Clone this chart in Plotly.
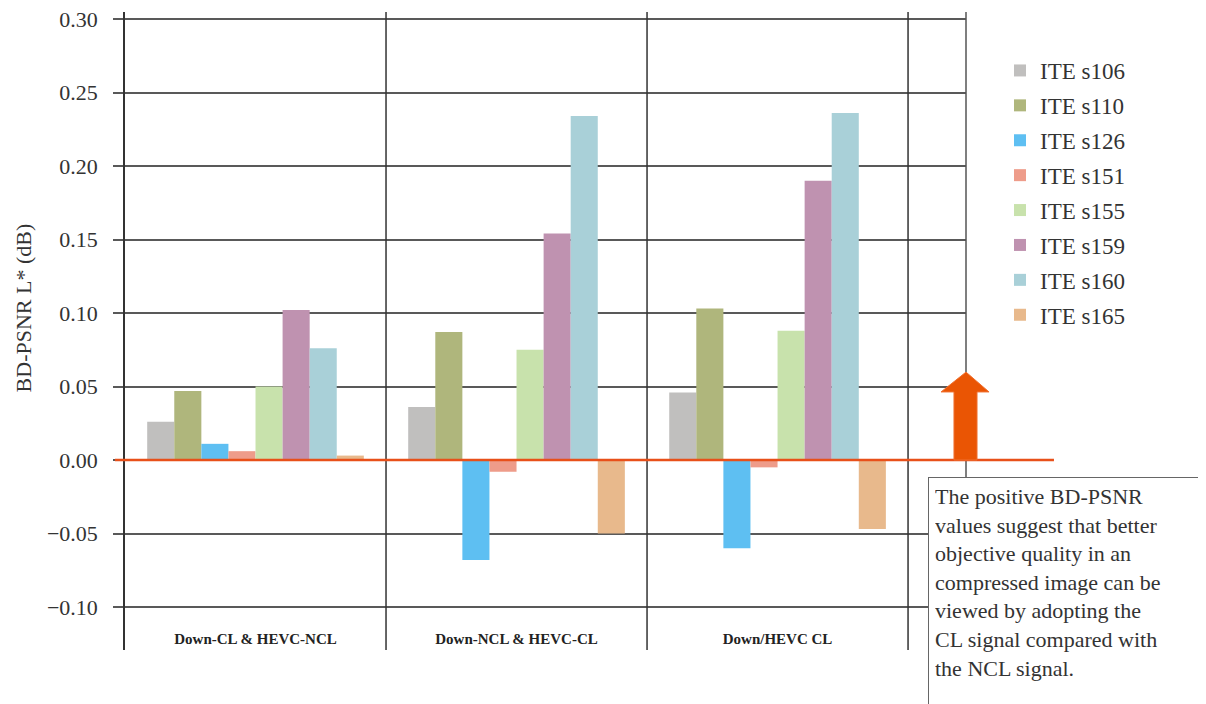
import plotly.graph_objects as go

categories = ["Down-CL & HEVC-NCL", "Down-NCL & HEVC-CL", "Down/HEVC CL"]
series_names = ["ITE s106", "ITE s110", "ITE s126", "ITE s151",
                "ITE s155", "ITE s159", "ITE s160", "ITE s165"]
s106 = [0.026, 0.036, 0.046]
s110 = [0.047, 0.087, 0.103]
s126 = [0.011, -0.068, -0.060]
s151 = [0.006, -0.008, -0.005]
s155 = [0.050, 0.075, 0.088]
s159 = [0.102, 0.154, 0.190]
s160 = [0.076, 0.234, 0.236]
s165 = [0.003, -0.050, -0.047]
series_values = [s106, s110, s126, s151, s155, s159, s160, s165]
colors = ["#C0BFBE", "#AFB67C", "#5EBFF2", "#EE9C8A",
          "#C8E2AC", "#BF92B0", "#A9D0D8", "#E8B98C"]
y_tick_vals = [-0.10, -0.05, 0.00, 0.05, 0.10, 0.15, 0.20, 0.25, 0.30]
y_tick_text = ["\u22120.10", "\u22120.05", "0.00", "0.05", "0.10",
               "0.15", "0.20", "0.25", "0.30"]
note_text = ("The positive BD-PSNR<br>values suggest that better<br>"
             "objective quality in an<br>compressed image can be<br>"
             "viewed by adopting the<br>CL signal compared with<br>"
             "the NCL signal.")

SERIF = "Liberation Serif"
GRID = "#595959"

fig = go.Figure()
for name, vals, col in zip(series_names, series_values, colors):
    fig.add_trace(go.Bar(name=name, x=categories, y=vals, legendgroup=name,
                         marker=dict(color=col, line=dict(width=0))))

shapes = []
for xv in [0.5, 1.5, 2.5]:
    shapes.append(dict(type="line", xref="x", yref="paper", x0=xv, x1=xv,
                       y0=0, y1=1, line=dict(color="#333333", width=1.5),
                       layer="above"))
shapes.append(dict(type="line", xref="paper", yref="paper", x0=1, x1=1,
                   y0=0, y1=1, line=dict(color="#555555", width=1.5),
                   layer="above"))
shapes.append(dict(type="line", xref="paper", yref="y", x0=-0.012, x1=1.1046,
                   y0=0, y1=0, line=dict(color="#E8501A", width=2.5),
                   layer="above"))
shapes.append(dict(type="path", xref="paper", yref="y",
                   path=("M 0.9857,0 L 1.0131,0 L 1.0131,0.0463 L 1.0274,0.0463 "
                         "L 1.0,0.0598 L 0.9703,0.0463 L 0.9857,0.0463 Z"),
                   fillcolor="#EA5504", line=dict(color="#F07030", width=1),
                   layer="above"))

annotations = [
    dict(text="BD-PSNR L* (dB)", xref="paper", yref="paper",
         x=-0.1213, y=0.537, textangle=-90, showarrow=False,
         xanchor="center", yanchor="middle",
         font=dict(family=SERIF, size=22, color="#333333")),
    dict(text=note_text, xref="paper", yref="paper", x=0.9548, y=0.2712,
         xanchor="left", yanchor="top", showarrow=False, align="left",
         valign="top", width=268, height=240, borderpad=6,
         bordercolor="#666666", borderwidth=1, bgcolor="white",
         font=dict(family=SERIF, size=22, color="#333333")),
]

fig.update_layout(
    width=1206, height=704,
    margin=dict(l=117, r=248, t=4, b=62, autoexpand=False),
    paper_bgcolor="white", plot_bgcolor="white",
    barmode="group", bargap=0.17, bargroupgap=0,
    showlegend=True,
    legend=dict(x=1.0404, y=0.942, xanchor="left", yanchor="top",
                font=dict(family=SERIF, size=23, color="#333333"),
                bgcolor="rgba(0,0,0,0)", itemwidth=30, tracegroupgap=2),
    xaxis=dict(type="category", range=[-0.5, 2.722],
               tickvals=categories,
               ticktext=["<b>" + c + "</b>" for c in categories],
               ticklabelposition="inside", ticks="", showgrid=False,
               showline=False, zeroline=False, automargin=False,
               tickfont=dict(family=SERIF, size=15, color="#222222")),
    yaxis=dict(range=[-0.12925, 0.30476], tickvals=y_tick_vals,
               ticktext=y_tick_text, showgrid=True, gridcolor=GRID,
               gridwidth=1.5, zeroline=False, showline=True,
               linecolor="#333333", linewidth=1.5, ticks="outside",
               ticklen=10, tickcolor=GRID, tickwidth=1.5,
               ticklabelstandoff=11, automargin=False,
               ticklabeloverflow="allow",
               tickfont=dict(family=SERIF, size=22, color="#333333")),
    shapes=shapes, annotations=annotations,
)

fig.write_html("out.html")
